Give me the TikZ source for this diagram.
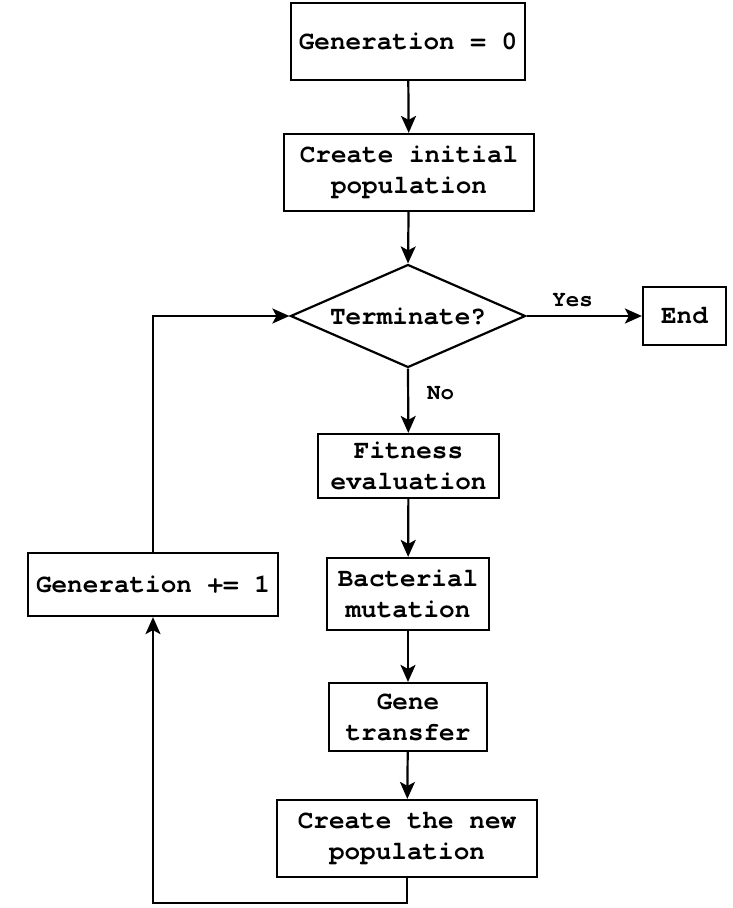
\documentclass[tikz,border=0pt]{standalone}
\usepackage{fontspec}
\setmonofont{texgyrecursor}[Extension=.otf, UprightFont=*-regular, BoldFont=*-bold]
\usetikzlibrary{shapes.geometric,arrows.meta}
\begin{document}
\begin{tikzpicture}[x=1pt,y=-1pt,
  every node/.style={inner sep=0pt},
  txt/.style={font=\ttfamily\bfseries\fontsize{26}{31}\selectfont, align=center},
  lbl/.style={font=\ttfamily\bfseries\fontsize{22.5}{24}\selectfont},
  stepbox/.style={txt, draw, line width=2.2pt, fill=white},
  decision/.style={diamond, draw, line width=2.2pt, fill=white},
  flow/.style={line width=2.2pt, -{Stealth[length=17pt,width=15pt,inset=4pt]}}]
\useasboundingbox (0,0) rectangle (732,908);

% process steps
\node[stepbox, minimum width=234, minimum height=77] (g0) at (408,41.5) {Generation = 0};
\node[stepbox, minimum width=250, minimum height=77] (init) at (409,172.5) {Create initial\\population};
\node[decision, minimum width=235, minimum height=103] (term) at (408,316) {};
\node[txt] (termtxt) at (term.center) {Terminate?};
\node[stepbox, minimum width=83, minimum height=58] (end) at (684.5,316) {End};
\node[stepbox, minimum width=181, minimum height=64] (fit) at (408.5,466) {Fitness\\evaluation};
\node[stepbox, minimum width=162, minimum height=72] (mut) at (408,594) {Bacterial\\mutation};
\node[stepbox, minimum width=158, minimum height=68] (gene) at (408,717) {Gene\\transfer};
\node[stepbox, minimum width=260, minimum height=77] (newpop) at (407,838.5) {Create the new\\population};
\node[stepbox, minimum width=250, minimum height=63] (inc) at (153,584.5) {Generation += 1};

% loop corners
\coordinate (bl) at (153,903);
\coordinate (tl) at (153,316);

% connectors
\draw[flow] (g0) -- (init);
\draw[flow] (init) -- (term.north);
\draw[flow] (term.east) -- node[lbl, above=8pt, pos=0.40] (yes) {Yes} (end);
\draw[flow] (term.south) -- node[lbl, right=18pt, pos=0.38] (no) {No} (fit);
\draw[flow] (fit) -- (mut);
\draw[flow] (mut) -- (gene);
\draw[flow] (gene) -- (newpop);
\draw[flow] (newpop.south) |- (bl) -- (inc.south);
\draw[flow] (inc.north) -- (tl) -- (term.west);
\end{tikzpicture}
\end{document}
